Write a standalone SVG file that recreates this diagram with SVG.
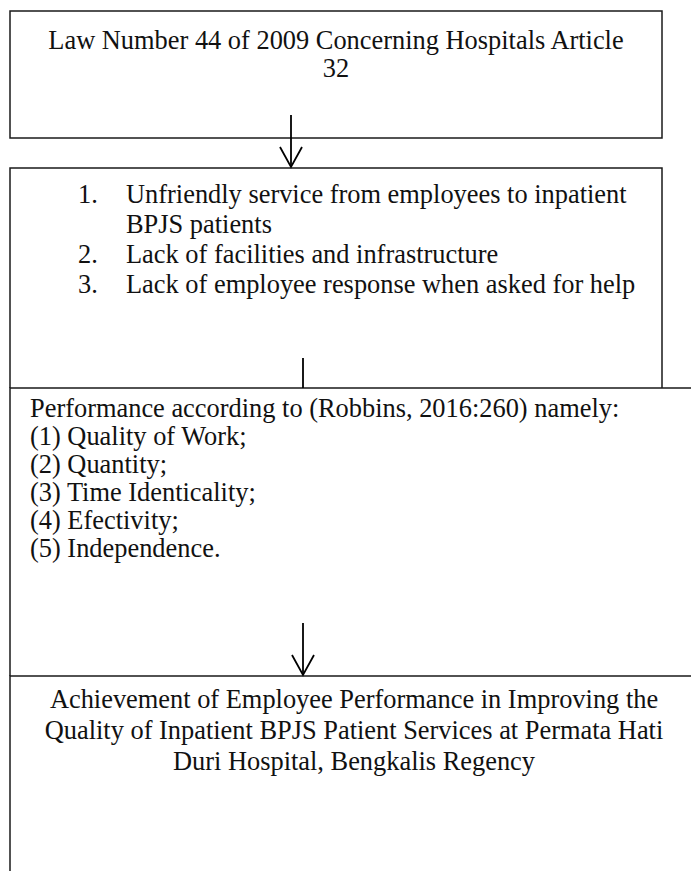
<svg xmlns="http://www.w3.org/2000/svg" width="691" height="871" viewBox="0 0 691 871">
  <style>
    .frame { fill: none; stroke: #1a1a1a; stroke-width: 1.5; }
    .link { fill: none; stroke: #000; stroke-width: 1.8; }
    text { font-family: "Liberation Serif", "Times New Roman", Tinos, "DejaVu Serif", serif; font-size: 26.4px; fill: #111; }
    .mid { text-anchor: middle; }
  </style>
  <defs>
    <!-- open V arrowhead, drawn pointing along +x -->
    <marker id="openArrow" markerUnits="userSpaceOnUse" markerWidth="24" markerHeight="24" refX="21" refY="12" orient="auto" viewBox="0 0 24 24">
      <path d="M1,1 L21,12 L1,23" fill="none" stroke="#000" stroke-width="1.8"/>
    </marker>
  </defs>
  <rect width="691" height="871" fill="#fff"/>

  <g font-family="Liberation Serif, Times New Roman, serif">
    <!-- legal basis -->
    <g id="law">
      <rect class="frame" x="10" y="11" width="652" height="127"/>
      <text class="mid" x="336" y="49">Law Number 44 of 2009 Concerning Hospitals Article</text>
      <text class="mid" x="336" y="77">32</text>
    </g>

    <!-- observed problems -->
    <g id="problems">
      <polyline class="frame" points="10,388 10,168 662,168 662,388"/>
      <text x="78" y="203">1.</text>
      <text x="126" y="203">Unfriendly service from employees to inpatient</text>
      <text x="126" y="233">BPJS patients</text>
      <text x="78" y="263">2.</text>
      <text x="126" y="263">Lack of facilities and infrastructure</text>
      <text x="78" y="293">3.</text>
      <text x="126" y="293">Lack of employee response when asked for help</text>
    </g>

    <!-- performance indicators -->
    <g id="performance">
      <polyline class="frame" points="10,676 10,388 691,388"/>
      <text x="30" y="417">Performance according to (Robbins, 2016:260) namely:</text>
      <text x="30" y="445">(1) Quality of Work;</text>
      <text x="30" y="473">(2) Quantity;</text>
      <text x="30" y="501">(3) Time Identicality;</text>
      <text x="30" y="529">(4) Efectivity;</text>
      <text x="30" y="557">(5) Independence.</text>
    </g>

    <!-- outcome -->
    <g id="outcome">
      <polyline class="frame" points="10,871 10,676 691,676"/>
      <text class="mid" x="354" y="708">Achievement of Employee Performance in Improving the</text>
      <text class="mid" x="354" y="739">Quality of Inpatient BPJS Patient Services at Permata Hati</text>
      <text class="mid" x="354" y="770">Duri Hospital, Bengkalis Regency</text>
    </g>
  </g>

  <g id="connectors">
    <line class="link" x1="291" y1="115" x2="291" y2="167" marker-end="url(#openArrow)"/>
    <line class="link" x1="303" y1="358" x2="303" y2="388"/>
    <line class="link" x1="303" y1="623" x2="303" y2="675" marker-end="url(#openArrow)"/>
  </g>
</svg>
